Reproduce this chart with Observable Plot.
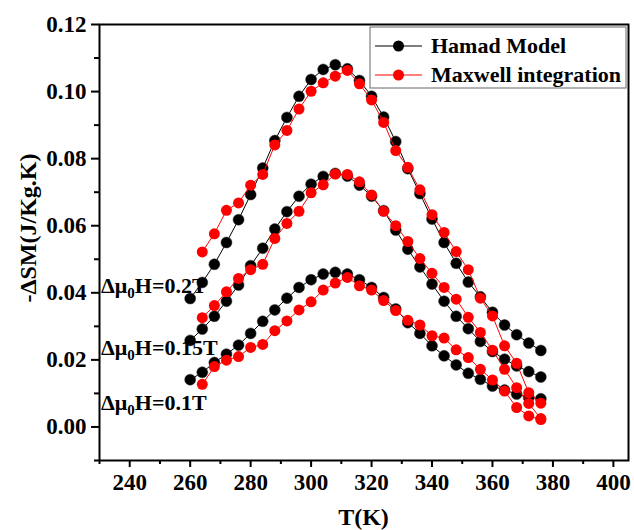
<!DOCTYPE html>
<html>
<head>
<meta charset="utf-8">
<script src="https://cdn.jsdelivr.net/npm/d3@7"></script>
<script src="https://cdn.jsdelivr.net/npm/@observablehq/plot@0.6"></script>
<style>
  html, body { margin: 0; padding: 0; background: #fff; }
  #chart { width: 634px; height: 530px; }
</style>
</head>
<body>
<div id="chart"></div>
<script>
// Temperatures (K)
const tempHamad = [260, 264, 268, 272, 276, 280, 284, 288, 292, 296, 300, 304, 308, 312, 316,
                   320, 324, 328, 332, 336, 340, 344, 348, 352, 356, 360, 364, 368, 372, 376];
const tempMaxwell = [264, 268, 272, 276, 280, 284, 288, 292, 296, 300, 304, 308, 312, 316,
                     320, 324, 328, 332, 336, 340, 344, 348, 352, 356, 360, 364, 368, 372, 376];

// -ΔS_M (J/kg.K), Hamad model
const hamad02 = [0.0383, 0.0431, 0.0485, 0.0550, 0.0618, 0.0693, 0.0772, 0.0854, 0.0923, 0.0986,
                 0.1036, 0.1066, 0.1080, 0.1068, 0.1033, 0.0986, 0.0924, 0.0851, 0.0770, 0.0696,
                 0.0620, 0.0550, 0.0488, 0.0432, 0.0388, 0.0342, 0.0304, 0.0275, 0.0250, 0.0228];
const hamad015 = [0.0258, 0.0292, 0.0330, 0.0375, 0.0423, 0.0481, 0.0533, 0.0590, 0.0642, 0.0688,
                  0.0724, 0.0747, 0.0756, 0.0748, 0.0721, 0.0688, 0.0645, 0.0587, 0.0530, 0.0477,
                  0.0426, 0.0375, 0.0330, 0.0293, 0.0255, 0.0225, 0.0202, 0.0182, 0.0165, 0.0149];
const hamad01 = [0.0141, 0.0163, 0.0192, 0.0217, 0.0244, 0.0279, 0.0315, 0.0349, 0.0384, 0.0416,
                 0.0439, 0.0456, 0.0461, 0.0456, 0.0439, 0.0416, 0.0386, 0.0352, 0.0311, 0.0279,
                 0.0242, 0.0212, 0.0185, 0.0160, 0.0142, 0.0122, 0.0110, 0.0098, 0.0088, 0.0084];

// -ΔS_M (J/kg.K), Maxwell integration
const maxwell02 = [0.0522, 0.0576, 0.0646, 0.0668, 0.0721, 0.0753, 0.0841, 0.0884, 0.0948,
                   0.1001, 0.1026, 0.1046, 0.1063, 0.1023, 0.0975, 0.0908, 0.0824, 0.0774, 0.0707,
                   0.0633, 0.0580, 0.0523, 0.0469, 0.0384, 0.0331, 0.0242, 0.0190, 0.0102, 0.0071];
const maxwell015 = [0.0326, 0.0362, 0.0403, 0.0443, 0.0469, 0.0485, 0.0562, 0.0607, 0.0643,
                    0.0698, 0.0722, 0.0754, 0.0753, 0.0731, 0.0692, 0.0643, 0.0600, 0.0553, 0.0502,
                    0.0458, 0.0416, 0.0381, 0.0327, 0.0282, 0.0229, 0.0172, 0.0117, 0.0070, 0.0025];
const maxwell01 = [0.0127, 0.0180, 0.0199, 0.0210, 0.0237, 0.0246, 0.0287, 0.0316, 0.0349,
                   0.0373, 0.0408, 0.0429, 0.0446, 0.0421, 0.0408, 0.0377, 0.0347, 0.0318, 0.0304,
                   0.0272, 0.0265, 0.0230, 0.0207, 0.0172, 0.0140, 0.0107, 0.0058, 0.0033, 0.0022];

// Field labels and the -ΔS_M level each label sits at
const fieldValues = ["0.2T", "0.15T", "0.1T"];
const fieldLabelLevel = [0.0420, 0.0234, 0.0072];

const seriesNames = ["Hamad Model", "Maxwell integration"];
const seriesColors = ["#000000", "#ff0000"];

const xTicks = [240, 260, 280, 300, 320, 340, 360, 380, 400];
const xMinorTicks = [230, 250, 270, 290, 310, 330, 350, 370, 390];
const yTicks = [0.00, 0.02, 0.04, 0.06, 0.08, 0.10, 0.12];
const yMinorTicks = [-0.01, 0.01, 0.03, 0.05, 0.07, 0.09, 0.11];

const xTitle = "T(K)";
const yTitle = "-ΔSM(J/Kg.K)";

// Long-format rows for each model
function rows(temps, values, field) {
  return temps.map((t, i) => ({T: t, S: values[i], field}));
}
const hamadRows = [
  ...rows(tempHamad, hamad02, "0.2T"),
  ...rows(tempHamad, hamad015, "0.15T"),
  ...rows(tempHamad, hamad01, "0.1T")
];
const maxwellRows = [
  ...rows(tempMaxwell, maxwell02, "0.2T"),
  ...rows(tempMaxwell, maxwell015, "0.15T"),
  ...rows(tempMaxwell, maxwell01, "0.1T")
];

const serif = "'Liberation Serif', 'Times New Roman', Times, serif";

const plot = Plot.plot({
  width: 634,
  height: 530,
  marginLeft: 99,
  marginRight: 6,
  marginTop: 24,
  marginBottom: 70,
  style: {fontFamily: serif, fontSize: "23px", fontWeight: "bold", color: "#000", background: "#fff"},
  x: {domain: [230, 405]},
  y: {domain: [-0.01, 0.12]},
  marks: [
    Plot.line(hamadRows, {x: "T", y: "S", z: "field", stroke: seriesColors[0], strokeWidth: 1}),
    Plot.dot(hamadRows, {x: "T", y: "S", r: 5.5, fill: seriesColors[0], stroke: "#333", strokeWidth: 0.5}),
    Plot.line(maxwellRows, {x: "T", y: "S", z: "field", stroke: seriesColors[1], strokeWidth: 1}),
    Plot.dot(maxwellRows, {x: "T", y: "S", r: 5.5, fill: seriesColors[1]}),
    Plot.frame({stroke: "#000", strokeWidth: 2}),
    Plot.axisX(xTicks, {tickSize: 7, tickPadding: 6, strokeWidth: 2, label: null}),
    Plot.axisX(xMinorTicks, {tickSize: 4, strokeWidth: 2, tickFormat: () => "", label: null}),
    Plot.axisY(yTicks, {tickSize: 8, tickPadding: 5, strokeWidth: 2, tickFormat: d3.format(".2f"), label: null}),
    Plot.axisY(yMinorTicks, {tickSize: 5, strokeWidth: 2, tickFormat: () => "", label: null})
  ]
});

document.getElementById("chart").appendChild(plot);

const svg = d3.select(plot);
const xs = plot.scale("x");
const ys = plot.scale("y");

// Field annotations with subscript 0
fieldValues.forEach((f, i) => {
  const t = svg.append("text")
    .attr("x", xs.apply(230) + 2)
    .attr("y", ys.apply(fieldLabelLevel[i]))
    .attr("dy", "0.33em")
    .attr("text-anchor", "start")
    .attr("font-family", serif)
    .attr("font-size", 22)
    .attr("font-weight", "bold")
    .attr("fill", "#000");
  t.append("tspan").text("Δμ");
  t.append("tspan").attr("font-size", 15).attr("dy", 5).text("0");
  t.append("tspan").attr("dy", -5).text("H=" + f);
});

// Axis titles
svg.append("text")
  .attr("x", (xs.range[0] + xs.range[1]) / 2)
  .attr("y", 525)
  .attr("text-anchor", "middle")
  .attr("font-family", serif)
  .attr("font-size", 24)
  .attr("font-weight", "bold")
  .text(xTitle);

svg.append("text")
  .attr("transform", "translate(28,228) rotate(-90)")
  .attr("dy", "0.35em")
  .attr("text-anchor", "middle")
  .attr("font-family", serif)
  .attr("font-size", 24)
  .attr("font-weight", "bold")
  .text(yTitle);

// Legend box
const lg = svg.append("g").attr("transform", "translate(370,27)");
lg.append("rect")
  .attr("width", 256).attr("height", 61)
  .attr("fill", "#fff").attr("stroke", "#666").attr("stroke-width", 1);
seriesNames.forEach((name, i) => {
  const cy = 19 + i * 29;
  lg.append("line")
    .attr("x1", 5).attr("x2", 52).attr("y1", cy).attr("y2", cy)
    .attr("stroke", seriesColors[i]).attr("stroke-width", 1.2);
  lg.append("circle")
    .attr("cx", 28.5).attr("cy", cy).attr("r", 5.5)
    .attr("fill", seriesColors[i]);
  lg.append("text")
    .attr("x", 61).attr("y", cy).attr("dy", "0.33em")
    .attr("text-anchor", "start")
    .attr("font-family", serif)
    .attr("font-size", 22)
    .attr("font-weight", "bold")
    .text(name);
});
</script>
</body>
</html>
